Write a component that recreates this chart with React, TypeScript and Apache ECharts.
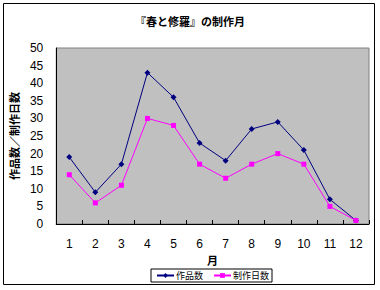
import React, { useEffect, useRef } from "react";
import * as echarts from "echarts";

const months = ["1", "2", "3", "4", "5", "6", "7", "8", "9", "10", "11", "12"];
const worksCount = [19, 9, 17, 43, 36, 23, 18, 27, 29, 21, 7, 1];
const workDays = [14, 6, 11, 30, 28, 17, 13, 17, 20, 17, 5, 1];

const FONT = "'Liberation Sans', 'Noto Sans CJK JP', sans-serif";
const JFONT = "'Noto Sans CJK JP', sans-serif";

export default function App() {
  const ref = useRef<HTMLDivElement>(null);
  useEffect(() => {
    if (!ref.current) return;
    const chart = echarts.init(ref.current, undefined, { renderer: "svg" });
    chart.setOption({
      animation: false,
      backgroundColor: "#ffffff",
      title: {
        text: "『春と修羅』の制作月",
        left: "center",
        top: 10,
        textStyle: { fontFamily: JFONT, fontSize: 11, fontWeight: "bold", color: "#000" },
      },
      graphic: [
        {
          type: "rect",
          shape: { x: 3.5, y: 3.5, width: 371, height: 281 },
          style: { fill: "none", stroke: "#000", lineWidth: 1 },
          silent: true,
        },
      ],
      grid: {
        left: 53,
        top: 48,
        width: 316,
        height: 176,
        show: true,
        backgroundColor: "#c0c0c0",
        borderColor: "#808080",
        borderWidth: 1,
      },
      legend: {
        left: 151,
        top: 269,
        itemWidth: 17,
        itemHeight: 6,
        itemGap: 10,
        padding: [2, 3, 2, 5],
        borderColor: "#000",
        borderWidth: 1,
        backgroundColor: "#fff",
        textStyle: { fontFamily: JFONT, fontSize: 9, color: "#000", padding: [0, 0, 0, -3] },
        data: ["作品数", "制作日数"],
      },
      xAxis: {
        type: "category",
        data: months,
        boundaryGap: true,
        name: "月",
        nameLocation: "middle",
        nameGap: 28,
        nameTextStyle: { fontFamily: JFONT, fontSize: 11, fontWeight: "bold", color: "#000" },
        axisLine: { lineStyle: { color: "#000", width: 1 } },
        axisTick: { show: true, inside: true, length: 4, alignWithLabel: false, lineStyle: { color: "#000" } },
        axisLabel: { fontFamily: FONT, fontSize: 12, color: "#000", margin: 14 },
        splitLine: { show: false },
      },
      yAxis: {
        type: "value",
        min: 0,
        max: 50,
        interval: 5,
        name: "作品数／制作日数",
        nameLocation: "middle",
        nameRotate: 90,
        nameGap: 30,
        nameTextStyle: { fontFamily: JFONT, fontSize: 11, fontWeight: "bold", color: "#000" },
        axisLine: { show: true, lineStyle: { color: "#000", width: 1 } },
        axisTick: { show: false },
        axisLabel: { fontFamily: FONT, fontSize: 12, color: "#000", margin: 13 },
        splitLine: { show: false },
      },
      series: [
        {
          name: "作品数",
          type: "line",
          data: worksCount,
          symbol: "diamond",
          symbolSize: 6,
          itemStyle: { color: "#000080" },
          lineStyle: { color: "#000080", width: 1 },
        },
        {
          name: "制作日数",
          type: "line",
          data: workDays,
          symbol: "rect",
          symbolSize: 5,
          itemStyle: { color: "#ff00ff" },
          lineStyle: { color: "#ff00ff", width: 1 },
        },
      ],
    });
    return () => chart.dispose();
  }, []);
  return (
    <div
      ref={ref}
      style={{ position: "fixed", left: 0, top: 0, width: 380, height: 290 }}
    />
  );
}
